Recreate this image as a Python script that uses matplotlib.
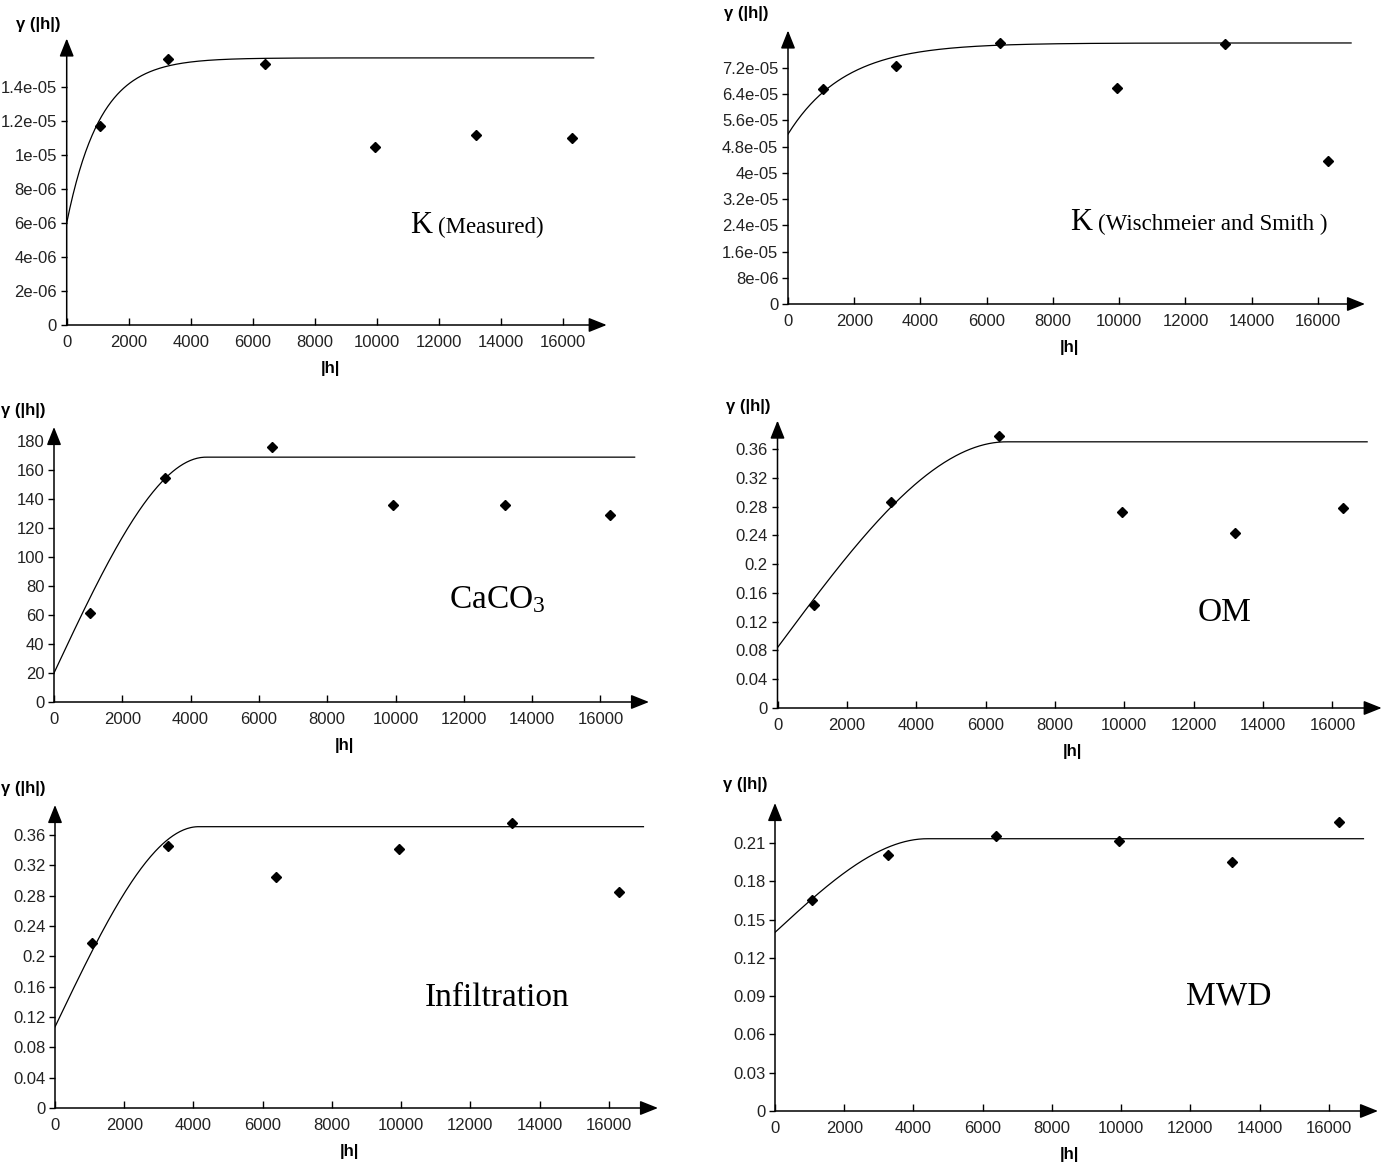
"""Six experimental semivariograms with fitted models (2 x 3 grid)."""

import matplotlib
matplotlib.use("Agg")
import matplotlib.pyplot as plt
import numpy as np
from matplotlib import font_manager

FIG_W, FIG_H = 1387, 1167


def pick_font(names):
    avail = {f.name for f in font_manager.fontManager.ttflist}
    for n in names:
        if n in avail:
            return n
    return "DejaVu Sans"


SANS = pick_font(["Liberation Sans Narrow", "Liberation Sans", "DejaVu Sans"])
SERIF = pick_font(["Liberation Serif", "DejaVu Serif"])

plt.rcParams["font.family"] = [SANS, "DejaVu Sans"]
plt.rcParams["mathtext.fontset"] = "custom"
plt.rcParams["mathtext.rm"] = SERIF
plt.rcParams["mathtext.default"] = "rm"

# --- data ---
lags = [1060, 3260, 6390, 9930, 13190, 16290]
x_ticks = [0, 2000, 4000, 6000, 8000, 10000, 12000, 14000, 16000]

k_measured = [11.69e-6, 15.66e-6, 15.32e-6, 10.45e-6, 11.14e-6, 11.0e-6]
k_wischmeier = [65.6e-6, 72.5e-6, 79.7e-6, 66.0e-6, 79.2e-6, 43.7e-6]
caco3 = [61.2, 154.2, 176.1, 135.7, 135.7, 128.8]
om = [0.143, 0.2857, 0.3785, 0.2726, 0.243, 0.278]
infiltration = [0.218, 0.346, 0.305, 0.342, 0.3758, 0.285]
mwd = [0.1657, 0.2004, 0.2152, 0.2118, 0.1949, 0.2265]

# fitted models: (type, nugget, sill, range)
model_k_measured = ("exp", 6.0e-6, 15.7e-6, 3250)
model_k_wischmeier = ("exp", 51.8e-6, 79.6e-6, 5150)
model_caco3 = ("sph", 20.0, 168.9, 4450)
model_om = ("sph", 0.084, 0.370, 6600)
model_infiltration = ("sph", 0.107, 0.371, 4150)
model_mwd = ("sph", 0.140, 0.2134, 4400)

yt_k_measured = [0, 2e-6, 4e-6, 6e-6, 8e-6, 1e-5, 1.2e-5, 1.4e-5]
yl_k_measured = ["0", "2e-06", "4e-06", "6e-06", "8e-06", "1e-05", "1.2e-05", "1.4e-05"]
yt_k_wischmeier = [0, 8e-6, 1.6e-5, 2.4e-5, 3.2e-5, 4e-5, 4.8e-5, 5.6e-5, 6.4e-5, 7.2e-5]
yl_k_wischmeier = ["0", "8e-06", "1.6e-05", "2.4e-05", "3.2e-05", "4e-05",
                   "4.8e-05", "5.6e-05", "6.4e-05", "7.2e-05"]
yt_caco3 = [0, 20, 40, 60, 80, 100, 120, 140, 160, 180]
yl_caco3 = ["0", "20", "40", "60", "80", "100", "120", "140", "160", "180"]
yt_036 = [0, 0.04, 0.08, 0.12, 0.16, 0.2, 0.24, 0.28, 0.32, 0.36]
yl_036 = ["0", "0.04", "0.08", "0.12", "0.16", "0.2", "0.24", "0.28", "0.32", "0.36"]
yt_mwd = [0, 0.03, 0.06, 0.09, 0.12, 0.15, 0.18, 0.21]
yl_mwd = ["0", "0.03", "0.06", "0.09", "0.12", "0.15", "0.18", "0.21"]


def model_curve(model, h):
    kind, c0, sill, a = model
    c = sill - c0
    if kind == "exp":
        return c0 + c * (1 - np.exp(-3 * h / a))
    r = np.clip(h / a, 0, 1)
    return c0 + c * (1.5 * r - 0.5 * r ** 3)


def px_rect(left, bottom, right, top):
    """pixel box -> figure fraction rect"""
    return [left / FIG_W, 1 - bottom / FIG_H, (right - left) / FIG_W, (bottom - top) / FIG_H]


# gam = (x px, y px, horizontal alignment) of the γ(|h|) label
panels = [
    dict(vals=k_measured, model=model_k_measured, yt=yt_k_measured, yl=yl_k_measured,
         box=(66.7, 325, 606.7, 38.5), ymax=16.84e-6,
         gam=(60, 24.5, "right"), title=("K", "(Measured)"), tpos=(11094, 5.4e-6)),
    dict(vals=k_wischmeier, model=model_k_wischmeier, yt=yt_k_wischmeier, yl=yl_k_wischmeier,
         box=(788, 304, 1365, 30.5), ymax=83.4e-6,
         gam=(768, 13.6, "right"), title=("K", "(Wischmeier and Smith )"), tpos=(8532, 22.7e-6)),
    dict(vals=caco3, model=model_caco3, yt=yt_caco3, yl=yl_caco3,
         box=(54, 702, 649, 427), ymax=189.7,
         gam=(1, 411, "left"), title=("CaCO$_3$", None), tpos=(11557, 64.6)),
    dict(vals=om, model=model_om, yt=yt_036, yl=yl_036,
         box=(777.5, 708, 1381.7, 420.6), ymax=0.3995,
         gam=(770, 406, "right"), title=("OM", None), tpos=(12111, 0.1208)),
    dict(vals=infiltration, model=model_infiltration, yt=yt_036, yl=yl_036,
         box=(55, 1108, 658, 805), ymax=0.3996,
         gam=(1, 788.6, "left"), title=("Infiltration", None), tpos=(10695, 0.1339)),
    dict(vals=mwd, model=model_mwd, yt=yt_mwd, yl=yl_mwd,
         box=(775, 1111, 1378, 803), ymax=0.2414,
         gam=(767.6, 784.7, "right"), title=("MWD", None), tpos=(11877, 0.0835)),
]

fig = plt.figure(figsize=(FIG_W / 100, FIG_H / 100), dpi=100)
fig.patch.set_facecolor("white")

h = np.linspace(0, 17000, 500)
arrow = dict(arrowstyle="-|>,head_length=0.55,head_width=0.22", color="black",
             lw=1.1, shrinkA=0, shrinkB=0, mutation_scale=20)

for p in panels:
    ax = fig.add_axes(px_rect(*p["box"]))
    ax.set_xlim(0, 17420)
    ax.set_ylim(0, p["ymax"])
    for s in ax.spines.values():
        s.set_visible(False)

    # axes with arrow heads
    ax.annotate("", xy=(1, 0), xytext=(0, 0), xycoords="axes fraction",
                arrowprops=arrow, annotation_clip=False)
    ax.annotate("", xy=(0, 1), xytext=(0, 0), xycoords="axes fraction",
                arrowprops=arrow, annotation_clip=False)

    ax.plot(h, model_curve(p["model"], h), color="black", lw=0.9)
    ax.plot(lags, p["vals"], linestyle="none", marker="D", ms=5.3, color="black")

    ax.set_xticks(x_ticks)
    ax.set_xticklabels([str(t) for t in x_ticks])
    ax.set_yticks(p["yt"])
    ax.set_yticklabels(p["yl"])
    ax.tick_params(axis="x", direction="in", length=5, width=1, pad=7,
                   labelsize=12, colors="black", labelcolor="#222222")
    ax.tick_params(axis="y", direction="out", length=4, width=1, pad=3,
                   labelsize=12, colors="black", labelcolor="#222222")

    ax.annotate("|h|", xy=(8500, 0), xycoords="data", xytext=(0, -31),
                textcoords="offset points", ha="center", va="center",
                fontsize=12, fontweight="bold", annotation_clip=False)

    gx, gy, gha = p["gam"]
    fig.text(gx / FIG_W, 1 - gy / FIG_H, "γ (|h|)", ha=gha, va="center",
             fontsize=12, fontweight="bold")

    big, small = p["title"]
    tx, ty = p["tpos"]
    if small is None:
        ax.text(tx, ty, big, fontsize=24, family=SERIF, va="baseline", ha="left")
    else:
        ax.text(tx, ty, big, fontsize=22, family=SERIF, va="baseline", ha="left")
        ax.annotate(small, xy=(tx, ty), xycoords="data", xytext=(20, 0),
                    textcoords="offset points", fontsize=16.5, family=SERIF,
                    va="baseline", ha="left")

fig.savefig("out.png", dpi=100, facecolor="white")
plt.close(fig)
